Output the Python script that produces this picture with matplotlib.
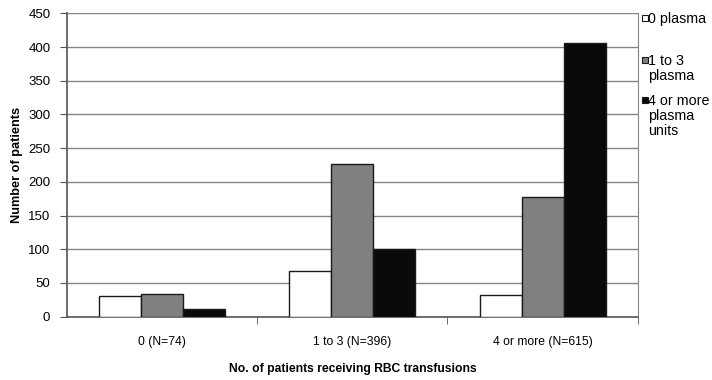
import matplotlib.pyplot as plt
import numpy as np
from matplotlib.patches import Rectangle

plt.rcParams['font.family'] = ['Liberation Sans', 'DejaVu Sans']

CATEGORIES = ['0 (N=74)', '1 to 3 (N=396)', '4 or more (N=615)']
SERIES = ['0 plasma', '1 to 3\nplasma', '4 or more\nplasma\nunits']
ZERO_PLASMA = [31, 68, 32]
ONE_TO_THREE = [33, 227, 178]
FOUR_OR_MORE = [11, 100, 406]
COLORS = ['#ffffff', '#808080', '#0a0a0a']

values = [ZERO_PLASMA, ONE_TO_THREE, FOUR_OR_MORE]

fig = plt.figure(figsize=(7.12, 3.8), dpi=100)
ax = fig.add_axes([0.0941, 0.1666, 0.8016, 0.7982])

x = np.arange(len(CATEGORIES))
w = 0.221
for i, (vals, col) in enumerate(zip(values, COLORS)):
    ax.bar(x + (i - 1) * w, vals, width=w, color=col, edgecolor='#1a1a1a',
           linewidth=1.0, zorder=3)

ax.set_xlim(-0.5, 2.5)
ax.set_ylim(0, 450)
ax.set_yticks(np.arange(0, 451, 50))
ax.yaxis.grid(True, color='#858585', linewidth=1.0, zorder=0)
ax.set_xticks(x)
ax.set_xticklabels(CATEGORIES, fontsize=8.7)
ax.set_xticks([0.5, 1.5, 2.5], minor=True)
ax.tick_params(axis='x', which='major', length=0, pad=14)
ax.tick_params(axis='x', which='minor', length=5, color='#555555')
ax.tick_params(axis='y', length=5, color='#555555', labelsize=9.5, pad=7)
for s in ['left', 'bottom']:
    ax.spines[s].set_color('#555555')
    ax.spines[s].set_linewidth(1.2)
ax.spines['right'].set_color('#858585')
ax.spines['top'].set_visible(False)

ax.set_ylabel('Number of patients', fontsize=9.2, fontweight='bold', labelpad=4)
ax.set_xlabel('No. of patients receiving RBC transfusions', fontsize=8.7,
              fontweight='bold', labelpad=11)

# legend drawn beside the plot, first line of each label next to its swatch
W, H = 712.0, 380.0
legend_y = [18, 60, 100]
for lab, col, yy in zip(SERIES, COLORS, legend_y):
    fig.patches.append(Rectangle((642 / W, 1 - (yy + 2.7) / H), 5.5 / W, 5.5 / H,
                                 transform=fig.transFigure, facecolor=col,
                                 edgecolor='#1a1a1a', linewidth=0.8))
    fig.text(648.5 / W, 1 - (yy - 6) / H, lab, fontsize=10.3, va='top',
             ha='left', linespacing=1.08)

fig.savefig('out.png', dpi=100)
